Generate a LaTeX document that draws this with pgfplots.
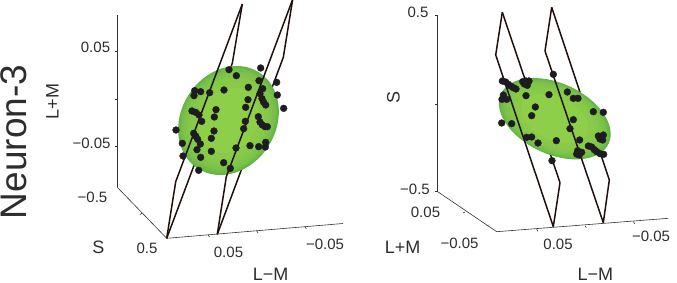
\documentclass[border=0pt]{standalone}
\usepackage{fontspec}
\setmainfont{Liberation Sans}
\usepackage{pgfplots}
\pgfplotsset{compat=1.18}
\definecolor{gA}{RGB}{142,207,74}
\definecolor{gC}{RGB}{98,178,70}
\definecolor{pl}{RGB}{30,16,12}
\definecolor{dot}{RGB}{30,28,32}
\definecolor{ax}{RGB}{50,50,50}
\definecolor{tx}{RGB}{45,45,45}
\tikzset{lab/.style={font=\fontsize{15}{15}\selectfont,text=tx,inner sep=0pt},
         alab/.style={font=\fontsize{18}{18}\selectfont,text=tx,inner sep=0pt}}
% layered ellipse: cx, cy, rx, ry, angle
\newcommand{\layer}[6]{\fill[gA!#6!gC,rotate around={#5:(axis cs:#1,#2)}] (axis cs:#1,#2) ellipse [x radius={#3pt},y radius={#4pt}];}
\newcommand{\ellip}[5]{%
\layer{#1}{#2}{#3}{#4}{#5}{0}%
\layer{#1}{#2}{0.985*#3}{0.985*#4}{#5}{14}%
\layer{#1}{#2}{0.965*#3}{0.965*#4}{#5}{28}%
\layer{#1}{#2}{0.94*#3}{0.94*#4}{#5}{42}%
\layer{#1}{#2}{0.905*#3}{0.905*#4}{#5}{55}%
\layer{#1}{#2}{0.86*#3}{0.86*#4}{#5}{67}%
\layer{#1}{#2}{0.8*#3}{0.8*#4}{#5}{78}%
\layer{#1}{#2}{0.72*#3}{0.72*#4}{#5}{88}%
\layer{#1}{#2}{0.6*#3}{0.6*#4}{#5}{100}%
}
\begin{document}
\begin{tikzpicture}
\begin{axis}[x=1pt,y=1pt,xmin=0,xmax=677,ymin=-282,ymax=0,hide axis,clip=true,
  scale only axis,
  axisl/.style={ax,line width=0.6pt,forget plot},
  plane/.style={pl,line width=1.5pt,line join=round,forget plot},
  dots/.style={only marks,mark=*,mark size=3.4pt,mark options={draw=dot,fill=dot},forget plot}]
\path (axis cs:0,-282) rectangle (axis cs:677,0);
% --- left panel axes
\addplot[axisl] coordinates {(117.3,-187.3)(117.3,-15)};
\addplot[axisl] coordinates {(117.3,-187.3)(166.7,-238.3)(343,-223.5)};
\addplot[axisl] coordinates {(117.3,-51.7)(115,-51.7)};
\addplot[axisl] coordinates {(117.3,-99)(115,-99)};
\addplot[axisl] coordinates {(117.3,-146.7)(115,-146.7)};
\addplot[axisl] coordinates {(142,-213)(140,-214.5)};
\addplot[axisl] coordinates {(208,-234.8)(209.5,-237)};
\addplot[axisl] coordinates {(256.7,-230.8)(258,-233)};
\addplot[axisl] coordinates {(305,-226.7)(306.3,-229)};
% --- right panel axes
\addplot[axisl] coordinates {(435,-15.7)(437.7,-15.7)(437.7,-191.7)(435,-191.7)};
\addplot[axisl] coordinates {(437.7,-104)(435,-104)};
\addplot[axisl] coordinates {(437.7,-191.7)(496.7,-231.7)(668.3,-218.3)};
\addplot[axisl] coordinates {(465,-212)(463,-213)};
\addplot[axisl] coordinates {(488.5,-225)(486.5,-226)};
\addplot[axisl] coordinates {(536.7,-229.3)(538,-231.3)};
\addplot[axisl] coordinates {(585,-225.7)(586.3,-227.7)};
\addplot[axisl] coordinates {(633.3,-221.7)(634.7,-223.7)};
% --- back edges of the planes
\addplot[plane] coordinates {(242.3,-4)(232.3,-63.3)(166.7,-238.3)};
\addplot[plane] coordinates {(292.7,0.7)(283.3,-57.3)(217.3,-234.3)};
\addplot[plane] coordinates {(502.3,-12.3)(560,-182.7)(553.3,-226.7)};
\addplot[plane] coordinates {(551.7,-7.3)(609.3,-180)(603.3,-222.7)};
% --- ellipsoids
\ellip{228.5}{-120.5}{57}{47.5}{58}
\ellip{554.8}{-118.7}{59.3}{35.5}{-24.7}
% --- front edges of the planes
\addplot[plane] coordinates {(166.7,-238.3)(175.7,-181.7)(242.3,-4)};
\addplot[plane] coordinates {(217.3,-234.3)(226.3,-176.7)(292.7,0.7)};
\addplot[plane] coordinates {(502.3,-12.3)(495.7,-55)(553.3,-226.7)};
\addplot[plane] coordinates {(551.7,-7.3)(545,-51)(603.3,-222.7)};
% --- dots left
\addplot[dots] table[row sep=\\,y expr=-\thisrowno{1}/3,x expr=\thisrowno{0}/3] {
687 209\\ 709 227\\ 782 204\\ 830 247\\ 777 242\\ 745 262\\ 672 270\\ 629 278\\ 602 275\\ 584 272\\ 582 287\\ 788 266\\ 780 281\\ 832 285\\ 744 299\\ 786 296\\ 791 307\\ 797 315\\ 851 325\\ 737 322\\ 648 329\\ 576 333\\ 587 337\\ 597 345\\ 643 351\\ 605 364\\ 775 350\\ 736 364\\ 780 366\\ 787 375\\ 795 380\\ 802 380\\ 528 390\\ 731 386\\ 642 393\\ 581 400\\ 587 408\\ 593 418\\ 634 415\\ 601 432\\ 547 430\\ 797 427\\ 796 441\\ 776 440\\ 750 437\\ 708 444\\ 591 449\\ 634 454\\ 549 468\\ 602 472\\ 671 488\\ 596 511\\ 691 505\\
};
% --- dots right
\addplot[dots] table[row sep=\\,y expr=-\thisrowno{1}/3,x expr=340+\thisrowno{0}/3] {
640 223\\ 487 243\\ 497 246\\ 505 253\\ 512 258\\ 520 263\\ 528 267\\ 548 245\\ 558 243\\ 567 243\\ 553 252\\ 562 256\\ 490 285\\ 486 298\\ 500 298\\ 558 287\\ 627 284\\ 682 276\\ 700 295\\ 714 295\\ 586 321\\ 575 347\\ 760 335\\ 790 337\\ 700 359\\ 485 369\\ 515 371\\ 690 386\\ 560 412\\ 575 411\\ 594 429\\ 649 422\\ 719 420\\ 775 408\\ 790 405\\ 780 417\\ 788 420\\ 745 438\\ 755 441\\ 763 449\\ 770 455\\ 780 461\\ 791 463\\ 713 452\\ 725 457\\ 710 462\\ 718 465\\ 636 482\\
};
% --- text
\node[lab,font=\fontsize{37}{37}\selectfont,rotate=90] at (axis cs:14,-142) {Neuron-3};
\node[lab] at (axis cs:95.5,-47) {0.05};
\node[lab] at (axis cs:91.5,-143) {−0.05};
\node[lab] at (axis cs:92.5,-197.5) {−0.5};
\node[alab,rotate=90] at (axis cs:52.5,-101.5) {L+M};
\node[alab] at (axis cs:98.5,-247.5) {S};
\node[lab] at (axis cs:147,-248.5) {0.5};
\node[lab] at (axis cs:228.5,-252.5) {0.05};
\node[lab] at (axis cs:325,-244) {−0.05};
\node[alab] at (axis cs:270.7,-274.5) {L−M};
\node[lab] at (axis cs:418,-12) {0.5};
\node[lab] at (axis cs:415,-189) {−0.5};
\node[alab,rotate=90] at (axis cs:393.5,-97) {S};
\node[lab] at (axis cs:425.5,-212) {0.05};
\node[lab] at (axis cs:459.5,-243) {−0.05};
\node[alab] at (axis cs:402.7,-247.3) {L+M};
\node[lab] at (axis cs:558,-244) {0.05};
\node[lab] at (axis cs:651,-236) {−0.05};
\node[alab] at (axis cs:595.3,-274.5) {L−M};
\end{axis}
\end{tikzpicture}
\end{document}
